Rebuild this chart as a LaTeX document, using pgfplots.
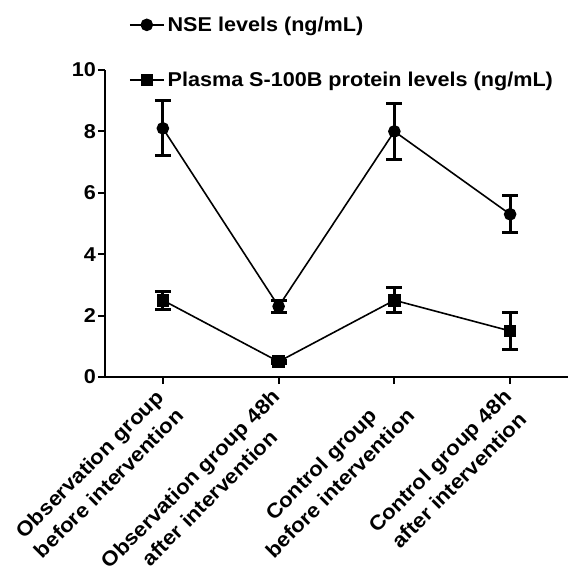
\documentclass[border=0pt]{standalone}
\usepackage{pgfplots}
\pgfplotsset{compat=1.18}
\usepackage{fontspec}
\setmainfont{Liberation Sans}[FakeStretch=1.08]
\begin{document}
\begin{tikzpicture}[font=\fontsize{20bp}{24bp}\selectfont\bfseries]
\begin{axis}[
  name=ax,
  scale only axis, width=463bp, height=307bp,
  xmin=-0.5, xmax=3.5, ymin=0, ymax=10,
  axis x line*=bottom, axis y line*=left,
  ytick={0,2,4,6,8,10}, xtick={0,1,2,3},
  xticklabels={{Observation group\\[2bp]before intervention},{Observation group 48h\\[2bp]after intervention},{Control group\\[2bp]before intervention},{Control group 48h\\[2bp]after intervention}},
  x tick label style={rotate=45, anchor=north east, align=center, inner sep=1bp, xshift=-7bp, yshift=4bp,
     font=\fontsize{20.5bp}{25bp}\selectfont\bfseries},
  y tick label style={inner sep=2bp},
  tick align=outside, major tick length=7bp,
  tick style={line width=2bp, black},
  axis line style={line width=2.2bp},
  /pgf/number format/assume math mode=true,
  clip=false,
  legend cell align=left,
  legend style={at={(0.045,1.19)}, anchor=north west, draw=none, fill=none, row sep=33bp,
    nodes={inner sep=3bp},
    legend image code/.code={\draw[mark repeat=2,mark phase=2,#1] plot coordinates {(0bp,0bp)(17bp,0bp)(34bp,0bp)};}},
]
\addplot[black, line width=1.6bp, mark=*, mark size=5.5bp,
  error bars/.cd, y dir=both, y explicit, error mark options={rotate=90, mark size=8bp, line width=3bp},
  error bar style={line width=3bp}]
  coordinates {(0,8.1) +- (0,0.9) (1,2.3) +- (0,0.2) (2,8.0) +- (0,0.9) (3,5.3) +- (0,0.6)};
\addlegendentry{NSE levels (ng/mL)}
\addplot[black, line width=1.6bp, mark=square*, mark size=5.5bp,
  error bars/.cd, y dir=both, y explicit, error mark options={rotate=90, mark size=8bp, line width=3bp},
  error bar style={line width=3bp}]
  coordinates {(0,2.5) +- (0,0.3) (1,0.5) +- (0,0.05) (2,2.5) +- (0,0.4) (3,1.5) +- (0,0.6)};
\addlegendentry{Plasma S-100B protein levels (ng/mL)}
\end{axis}
\pgfresetboundingbox
\path[use as bounding box] ([shift={(-105bp,-195bp)}]ax.south west) rectangle ([shift={(0bp,70bp)}]ax.north east);
\end{tikzpicture}
\end{document}
